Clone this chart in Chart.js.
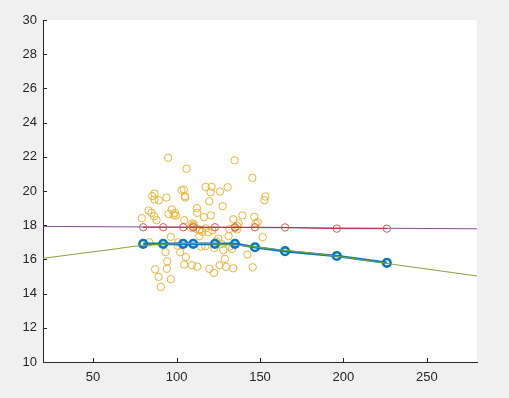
<!DOCTYPE html>
<html lang="en">
<head>
    <meta charset="UTF-8">
    <title>Fit plot</title>
    <script src="https://cdn.jsdelivr.net/npm/chart.js"></script>
    <style>
        body {
            margin: 0;
            padding: 0;
            background-color: #f0f0f0;
        }
        #plot {
            display: block;
        }
    </style>
</head>
<body>
    <canvas id="plot" width="509" height="398"></canvas>
    <script>
        // raw samples (yellow circles)
        var sampleX = [95, 134.8, 106, 145.4, 117.4, 121, 130.6, 103, 104.4, 126, 120.4, 86.8, 85.4, 105, 105.2, 94,
            89.4, 86.8, 153.2, 152.6, 119.6, 127.6, 112.2, 83.2, 97.2, 112.4, 99, 85, 95.2, 99.6, 86.6, 139.4, 120.6,
            116.4, 146.6, 79.2, 134, 88, 104.6, 148.6, 109.4, 137.2, 113.6, 131.6, 135, 117.4, 115.4, 113.6, 96.6,
            151.6, 131.2, 125, 119, 83.6, 114.8, 117.2, 122.6, 133.2, 102.2, 93.4, 128, 142.4, 105.6, 129, 94.4, 104.6,
            109.2, 112.4, 125.8, 129.6, 134, 119.6, 145.6, 87.2, 94.2, 122.4, 89.2, 96.6, 90.6, 100.8, 109.8, 110.4,
            136.4, 123.8, 147.4, 108.6, 114, 127, 101, 131.8, 121.4, 111.6, 136.2, 98.2];
        var sampleY = [21.94, 21.79, 21.3, 20.77, 20.24, 20.24, 20.22, 20.05, 20.09, 19.97, 19.93, 19.85, 19.7, 19.7,
            19.62, 19.62, 19.46, 19.5, 19.68, 19.46, 19.4, 19.11, 19.0, 18.86, 18.92, 18.72, 18.72, 18.72, 18.66,
            18.57, 18.53, 18.57, 18.57, 18.47, 18.49, 18.41, 18.35, 18.29, 18.29, 18.18, 18.1, 18.1, 17.75, 17.77,
            17.84, 17.82, 17.61, 17.36, 17.32, 17.3, 17.36, 17.22, 17.59, 17.0, 16.75, 16.77, 16.67, 16.61, 16.42,
            16.42, 16.54, 16.28, 16.13, 16.03, 15.89, 15.7, 15.66, 15.58, 15.66, 15.56, 15.48, 15.45, 15.54, 15.42,
            15.45, 15.21, 14.98, 14.84, 14.39, 16.8, 17.95, 18.05, 17.95, 17.05, 18.1, 17.85, 17.7, 16.9, 17.0,
            16.75, 17.7, 17.8, 17.75, 18.6];

        // fitted points
        var fitX = [80, 92, 104, 110, 123, 135, 147, 165, 196, 226];
        var redY = [17.88, 17.88, 17.88, 17.88, 17.88, 17.88, 17.88, 17.87, 17.8, 17.8];
        var blueY = [16.91, 16.91, 16.91, 16.91, 16.91, 16.91, 16.71, 16.48, 16.2, 15.8];

        // long trend lines
        var purpleX = [20, 280];
        var purpleY = [17.93, 17.79];
        var greenX = [20, 40, 60, 80, 100, 120, 140, 160, 180, 200, 220, 240, 260, 280];
        var greenY = [16.06, 16.32, 16.57, 16.82, 16.92, 16.92, 16.8, 16.58, 16.38, 16.13, 15.85, 15.57, 15.3, 15.03];

        var yTicks = [10, 12, 14, 16, 18, 20, 22, 24, 26, 28, 30];
        var xTicks = [50, 100, 150, 200, 250];

        function pts(xs, ys) {
            return xs.map(function (x, i) { return { x: x, y: ys[i] }; });
        }

        var axisColor = '#262626';

        // white plot area on grey figure + inward tick marks like matlab
        var matlabLook = {
            id: 'matlabLook',
            beforeDraw: function (chart) {
                var ctx = chart.ctx, a = chart.chartArea;
                ctx.save();
                ctx.fillStyle = '#f0f0f0';
                ctx.fillRect(0, 0, chart.width, chart.height);
                ctx.fillStyle = '#ffffff';
                ctx.fillRect(a.left, a.top, a.right - a.left, a.bottom - a.top);
                ctx.restore();
            },
            afterDraw: function (chart) {
                var ctx = chart.ctx, a = chart.chartArea;
                var xs = chart.scales.x, ys = chart.scales.y;
                ctx.save();
                ctx.strokeStyle = axisColor;
                ctx.lineWidth = 1;
                ctx.beginPath();
                yTicks.forEach(function (v) {
                    var py = Math.round(ys.getPixelForValue(v)) + 0.5;
                    ctx.moveTo(a.left, py);
                    ctx.lineTo(a.left + 4, py);
                });
                xTicks.forEach(function (v) {
                    var px = Math.round(xs.getPixelForValue(v)) + 0.5;
                    ctx.moveTo(px, a.bottom);
                    ctx.lineTo(px, a.bottom - 4);
                });
                ctx.stroke();
                ctx.restore();
            }
        };

        new Chart(document.getElementById('plot'), {
            type: 'scatter',
            data: {
                datasets: [{
                    data: pts(sampleX, sampleY),
                    borderColor: '#E9B53A',
                    backgroundColor: 'rgba(0,0,0,0)',
                    borderWidth: 1,
                    pointRadius: 3.7,
                    order: 5
                }, {
                    data: pts(purpleX, purpleY),
                    showLine: true,
                    borderColor: '#8E4A9A',
                    borderWidth: 1,
                    pointRadius: 0,
                    order: 4
                }, {
                    data: pts(fitX, redY),
                    showLine: true,
                    borderColor: '#A8323F',
                    pointBorderColor: '#D0604E',
                    backgroundColor: 'rgba(0,0,0,0)',
                    borderWidth: 1,
                    pointRadius: 3.7,
                    order: 3
                }, {
                    data: pts(fitX, blueY),
                    showLine: true,
                    borderColor: '#0A78B8',
                    backgroundColor: 'rgba(0,0,0,0)',
                    borderWidth: 2.6,
                    pointRadius: 3.8,
                    pointBorderWidth: 2.6,
                    order: 2
                }, {
                    data: pts(greenX, greenY),
                    showLine: true,
                    borderColor: '#86A03C',
                    borderWidth: 1,
                    pointRadius: 0,
                    tension: 0.3,
                    order: 1
                }]
            },
            options: {
                responsive: false,
                animation: false,
                layout: { padding: { top: 20, right: 32, left: 0, bottom: 0 } },
                plugins: {
                    legend: { display: false },
                    tooltip: { enabled: false }
                },
                scales: {
                    x: {
                        type: 'linear',
                        min: 20,
                        max: 280,
                        afterBuildTicks: function (s) {
                            s.ticks = xTicks.map(function (v) { return { value: v }; });
                        },
                        afterFit: function (s) { s.height = 36; },
                        grid: { drawOnChartArea: false, drawTicks: false },
                        border: { display: true, color: axisColor, width: 1 },
                        ticks: {
                            color: axisColor,
                            padding: 8,
                            font: { family: 'Liberation Sans, Arial, sans-serif', size: 13 }
                        }
                    },
                    y: {
                        type: 'linear',
                        min: 10,
                        max: 30,
                        afterBuildTicks: function (s) {
                            s.ticks = yTicks.map(function (v) { return { value: v }; });
                        },
                        afterFit: function (s) { s.width = 43; },
                        grid: { drawOnChartArea: false, drawTicks: false },
                        border: { display: true, color: axisColor, width: 1 },
                        ticks: {
                            color: axisColor,
                            padding: 6,
                            font: { family: 'Liberation Sans, Arial, sans-serif', size: 13 }
                        }
                    }
                }
            },
            plugins: [matlabLook]
        });
    </script>
</body>
</html>
